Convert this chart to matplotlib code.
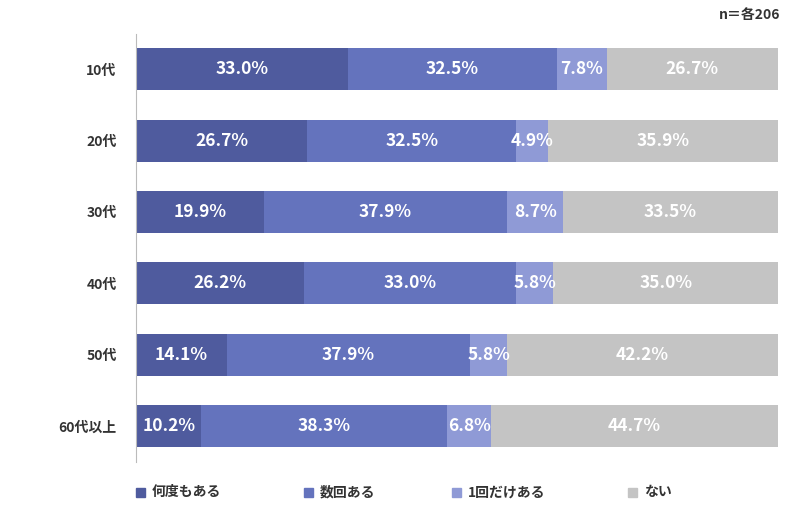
import matplotlib
matplotlib.use("Agg")
import matplotlib.pyplot as plt
import numpy as np

plt.rcParams["font.family"] = "Noto Sans CJK JP"

categories = ["10代", "20代", "30代", "40代", "50代", "60代以上"]
series_names = ["何度もある", "数回ある", "1回だけある", "ない"]
often = [33.0, 26.7, 19.9, 26.2, 14.1, 10.2]
several = [32.5, 32.5, 37.9, 33.0, 37.9, 38.3]
once = [7.8, 4.9, 8.7, 5.8, 5.8, 6.8]
never = [26.7, 35.9, 33.5, 35.0, 42.2, 44.7]
colors = ["#4f5b9e", "#6473bd", "#8f9ad6", "#c4c4c4"]

fig = plt.figure(figsize=(8, 5.08), dpi=100)
ax = fig.add_axes([0.17, 0.091, 0.8025, 0.843])
y = np.arange(len(categories))
left = np.zeros(len(categories))
for vals, c in zip([often, several, once, never], colors):
    vals = np.array(vals)
    ax.barh(y, vals, left=left, height=0.59, color=c)
    for yi, l, v in zip(y, left, vals):
        ax.text(l + v / 2, yi, f"{v:.1f}%", ha="center", va="center",
                color="white", fontsize=12.5, fontweight="bold")
    left += vals
ax.set_xlim(0, 100)
ax.set_ylim(len(categories) - 0.5, -0.5)
ax.set_yticks(y)
ax.set_yticklabels(categories, fontsize=10, fontweight="bold", color="#333333")
ax.tick_params(axis="y", length=0, pad=14)
ax.set_xticks([])
for s in ["top", "right", "bottom"]:
    ax.spines[s].set_visible(False)
ax.spines["left"].set_color("#bbbbbb")

fig.text(0.975, 0.97, "n＝各206", ha="right", va="center", fontsize=10,
         fontweight="bold", color="#333333")

xs = [0.17, 0.38, 0.565, 0.785]
for x, name, c in zip(xs, series_names, colors):
    fig.patches.append(plt.Rectangle((x, 0.022), 0.011, 0.018, color=c,
                                     transform=fig.transFigure))
    fig.text(x + 0.02, 0.031, name, va="center", fontsize=10,
             fontweight="bold", color="#333333")

fig.savefig("out.png", dpi=100)
